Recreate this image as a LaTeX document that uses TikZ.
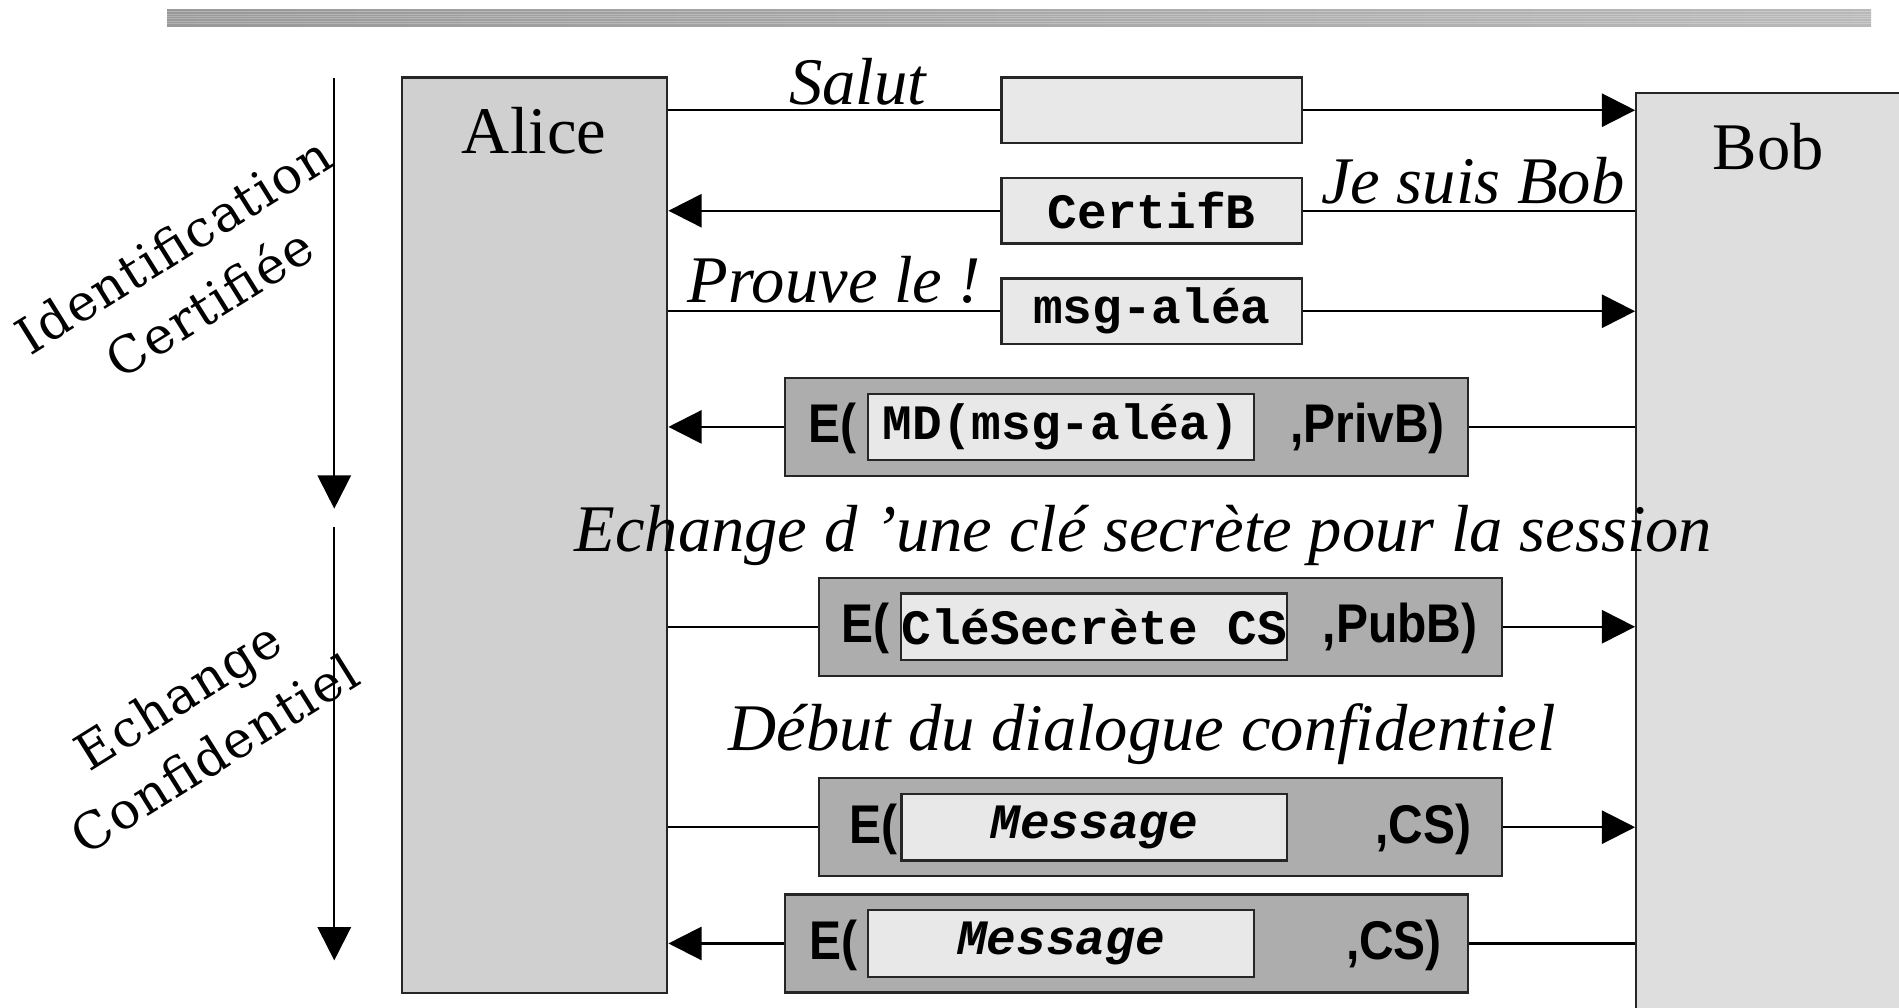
\documentclass[tikz,border=0pt]{standalone}
\usepackage{fontspec}
\setmainfont{Liberation Serif}
\setmonofont{Liberation Mono}
\newfontfamily\encfont[FakeStretch=0.88]{Liberation Sans}
\newfontfamily\phasefont[LetterSpace=3]{DejaVu Serif}
\usetikzlibrary{arrows.meta}

\definecolor{alicegray}{HTML}{D0D0D0}
\definecolor{bobgray}{HTML}{DEDEDE}
\definecolor{msggray}{HTML}{E8E8E8}
\definecolor{cryptgray}{HTML}{ADADAD}

\tikzset{
  party/.style={draw=black!85, line width=1.1pt, inner sep=0pt},
  msgbox/.style={draw=black!85, line width=1.1pt, fill=msggray, inner sep=0pt,
    minimum width=148.8pt, minimum height=32.4pt,
    font=\fontsize{24.5}{24.5}\selectfont\ttfamily\bfseries},
  cryptbox/.style={draw=black!85, line width=1.1pt, fill=cryptgray, inner sep=0pt,
    minimum width=338.4pt, minimum height=48.6pt},
  plainbox/.style={draw=black!85, line width=1.1pt, fill=msggray, inner sep=0pt,
    minimum width=191pt, minimum height=33pt,
    font=\fontsize{24.5}{24.5}\selectfont\ttfamily\bfseries},
  enc/.style={inner sep=0pt, font=\fontsize{27}{27}\selectfont\encfont\bfseries},
  say/.style={inner sep=0pt, anchor=base, font=\fontsize{33}{33}\selectfont\itshape},
  who/.style={inner sep=0pt, anchor=base, font=\fontsize{33}{33}\selectfont},
  phase/.style={inner sep=0pt, align=center, rotate=32,
    font=\fontsize{25}{34}\selectfont\phasefont},
  wire/.style={line width=1.1pt, black},
  tip/.style={-{Triangle[length=16.5pt,width=16.5pt]}},
}

\begin{document}
\begin{tikzpicture}[x=0.6pt, y=-0.6pt]
\clip (0,0) rectangle (1568,831.5);
\fill[white] (0,0) rectangle (1568,831.5);

% header bar
\shade[left color=gray!80, right color=gray!55] (138,8) rectangle (1545,22);
\foreach \yy in {9.5,11.5,...,21} \draw[white, opacity=0.25, line width=0.35pt] (138,\yy) -- (1545,\yy);

% the two parties
\node[party, fill=alicegray, minimum width=131.4pt, minimum height=453.6pt] (alice) at (441.5,442) {};
\node[party, fill=bobgray, minimum width=149.4pt, minimum height=469.8pt] (bob) at (1475.5,468.5) {};
\node[who] (alicelbl) at (441,127) {Alice};
\node[who] (boblbl) at (1460,140) {Bob};

% phase timeline
\coordinate (p1s) at (276,64);  \coordinate (p1e) at (276,420);
\coordinate (p2s) at (276,435); \coordinate (p2e) at (276,793);
\draw[wire, tip] (p1s) -- (p1e);
\draw[wire, tip] (p2s) -- (p2e);
\node[phase] (ph1) at (158,226) {Identification\\Certifiée};
\node[phase] (ph2) at (162,598) {Echange\\Confidentiel};

% 1: Salut
\node[msgbox] (m1) at (951,91) {};
\draw[wire] (alice.east |- m1.west) -- (m1.west);
\draw[wire, tip] (m1.east) -- (bob.west |- m1.east);
\node[say] (s1) at (708,86) {Salut};

% 2: certificate
\node[msgbox] (m2) at (951,174) {CertifB};
\draw[wire] (bob.west |- m2.east) -- (m2.east);
\draw[wire, tip] (m2.west) -- (alice.east |- m2.west);
\node[say] (s2) at (1216,168) {Je suis Bob};

% 3: challenge
\node[msgbox] (m3) at (951,257) {msg-aléa};
\draw[wire] (alice.east |- m3.west) -- (m3.west);
\draw[wire, tip] (m3.east) -- (bob.west |- m3.east);
\node[say] (s3) at (689,250) {Prouve le !};

% 4: signed answer
\node[cryptbox] (m4) at (930,352.5) {};
\node[plainbox] (m4i) at (876,352.5) {MD(msg-aléa)};
\node[enc] (m4a) at (687,354) {E(};
\node[enc] (m4b) at (1129,354) {,PrivB)};
\draw[wire] (bob.west |- m4.east) -- (m4.east);
\draw[wire, tip] (m4.west) -- (alice.east |- m4.west);

% 5: session key
\node[cryptbox] (m5) at (958,517.5) {};
\node[plainbox] (m5i) at (903.5,517.5) {CléSecrète CS};
\node[enc] (m5a) at (715,519) {E(};
\node[enc] (m5b) at (1156,519) {,PubB)};
\draw[wire] (alice.east |- m5.west) -- (m5.west);
\draw[wire, tip] (m5.east) -- (bob.west |- m5.east);

% 6: message to Bob
\node[cryptbox] (m6) at (958,683) {};
\node[plainbox] (m6i) at (903.5,683) {\itshape Message};
\node[enc] (m6a) at (721,685) {E(};
\node[enc] (m6b) at (1175,685) {,CS)};
\draw[wire] (alice.east |- m6.west) -- (m6.west);
\draw[wire, tip] (m6.east) -- (bob.west |- m6.east);

% 7: message to Alice
\node[cryptbox] (m7) at (930,779) {};
\node[plainbox] (m7i) at (876,779) {\itshape Message};
\node[enc] (m7a) at (688,781) {E(};
\node[enc] (m7b) at (1151,781) {,CS)};
\draw[wire] (bob.west |- m7.east) -- (m7.east);
\draw[wire, tip] (m7.west) -- (alice.east |- m7.west);

% section captions
\node[say] (c1) at (944,455) {Echange d ’une clé secrète pour la session};
\node[say] (c2) at (943,620) {Début du dialogue confidentiel};
\end{tikzpicture}
\end{document}
